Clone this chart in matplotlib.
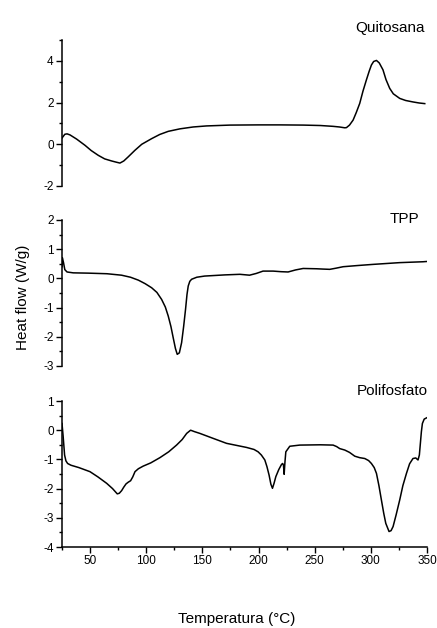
import matplotlib
matplotlib.use("Agg")
import matplotlib.pyplot as plt
from matplotlib.ticker import MultipleLocator

plt.rcParams['font.family'] = ['Liberation Sans', 'DejaVu Sans']
plt.rcParams['axes.unicode_minus'] = False

# Quitosana
t_quit = [25.0, 27.5, 29.5, 32.1, 38.0, 45.5, 51.0, 57.3, 63.0, 69.2, 73.5, 76.6, 80.0,
          84.0, 89.9, 96.0, 104.8, 112.0, 119.6, 130.0, 141.8, 153.7, 174.5, 200.0,
          219.0, 240.0, 255.0, 266.4, 272.0, 276.8, 278.3, 281.0, 284.2, 287.0, 290.1,
          293.0, 296.0, 298.5, 300.5, 302.5, 305.0, 307.5, 310.8, 313.5, 316.8, 320.0,
          325.7, 331.0, 337.5, 343.0, 348.0]
v_quit = [0.30, 0.48, 0.50, 0.45, 0.25, -0.05, -0.30, -0.53, -0.70, -0.80, -0.86, -0.90,
          -0.80, -0.60, -0.29, 0.00, 0.27, 0.47, 0.62, 0.74, 0.83, 0.88, 0.92, 0.93,
          0.93, 0.92, 0.90, 0.86, 0.83, 0.79, 0.80, 0.92, 1.16, 1.52, 1.96, 2.55, 3.08,
          3.50, 3.80, 3.97, 4.02, 3.90, 3.57, 3.10, 2.68, 2.42, 2.20, 2.10, 2.03, 1.98,
          1.95]

# TPP
t_tpp = [25.0, 25.3, 26.3, 27.5, 29.5, 35.0, 48.4, 65.0, 78.0, 86.0, 93.0, 99.0,
         104.8, 109.5, 113.7, 117.0, 119.6, 122.0, 124.0, 126.0, 127.6, 129.5, 131.5,
         133.3, 135.0, 136.3, 137.4, 138.8, 140.4, 145.0, 152.0, 170.0, 183.4, 192.0,
         198.0, 204.0, 213.0, 220.0, 226.3, 233.0, 239.7, 251.6, 257.0, 263.4, 269.0,
         275.3, 288.0, 302.0, 325.7, 346.4, 350.0]
v_tpp = [0.40, 0.71, 0.55, 0.30, 0.22, 0.19, 0.18, 0.16, 0.11, 0.04, -0.06, -0.18,
         -0.32, -0.48, -0.72, -0.98, -1.29, -1.65, -2.03, -2.40, -2.60, -2.55, -2.20,
         -1.65, -1.06, -0.55, -0.26, -0.10, -0.03, 0.04, 0.08, 0.12, 0.14, 0.11, 0.17,
         0.25, 0.25, 0.23, 0.22, 0.29, 0.34, 0.33, 0.32, 0.31, 0.35, 0.40, 0.44, 0.48,
         0.54, 0.57, 0.58]

# Polifosfato
t_poli = [25.0, 26.0, 27.3, 28.5, 30.0, 33.0, 40.0, 49.9, 57.0, 64.8, 70.0, 74.2,
          76.0, 78.1, 80.0, 82.0, 84.0, 86.1, 88.0, 90.0, 93.0, 97.3, 104.0, 112.2,
          120.0, 127.0, 132.0, 136.0, 139.5, 143.0, 147.8, 159.6, 171.5, 189.3, 196.0,
          199.6, 202.5, 205.6, 207.5, 209.4, 211.0, 212.4, 213.8, 215.4, 218.0, 220.5,
          221.5, 222.2, 222.8, 223.5, 224.3, 227.8, 236.7, 255.0, 266.4, 269.5, 272.3,
          276.8, 281.0, 285.7, 290.0, 294.6, 298.0, 300.5, 303.0, 305.0, 307.2, 309.4,
          311.5, 313.3, 316.2, 318.0, 319.8, 322.5, 325.7, 328.5, 331.7, 334.5, 337.5,
          340.0, 342.0, 343.2, 344.1, 345.0, 345.9, 347.5, 350.0]
v_poli = [0.23, -0.20, -0.85, -1.05, -1.14, -1.20, -1.28, -1.42, -1.60, -1.82, -2.00,
          -2.18, -2.16, -2.07, -1.95, -1.84, -1.78, -1.73, -1.60, -1.42, -1.32, -1.23,
          -1.12, -0.94, -0.74, -0.51, -0.32, -0.11, 0.00, -0.05, -0.11, -0.28, -0.45,
          -0.59, -0.66, -0.74, -0.85, -1.02, -1.25, -1.54, -1.85, -1.99, -1.82, -1.59,
          -1.35, -1.17, -1.14, -1.20, -1.51, -1.10, -0.74, -0.55, -0.51, -0.50, -0.51,
          -0.56, -0.63, -0.68, -0.76, -0.89, -0.94, -0.97, -1.04, -1.14, -1.28, -1.48,
          -1.90, -2.39, -2.85, -3.19, -3.47, -3.44, -3.30, -2.90, -2.39, -1.90, -1.48,
          -1.15, -0.97, -0.95, -1.02, -0.85, -0.45, -0.05, 0.23, 0.38, 0.43]

xlim = (25, 350)
fig = plt.figure(figsize=(4.37, 6.28), dpi=100)

W, H = 437.0, 628.0
left = 62 / W
width = (427 - 62) / W

def make_ax(top_px, bot_px):
    return fig.add_axes([left, 1 - bot_px / H, width, (bot_px - top_px) / H])

ax1 = make_ax(40, 186)
ax2 = make_ax(220, 366)
ax3 = make_ax(401, 547)

specs = [
    (ax1, t_quit, v_quit, (-2, 5), 2, 1),
    (ax2, t_tpp, v_tpp, (-3, 2), 1, 0.5),
    (ax3, t_poli, v_poli, (-4, 1), 1, 0.5),
]

for ax, t, v, yl, maj, mnr in specs:
    ax.plot(t, v, color='black', lw=1.1, solid_joinstyle='round')
    ax.set_xlim(*xlim)
    ax.set_ylim(*yl)
    ax.yaxis.set_major_locator(MultipleLocator(maj))
    ax.yaxis.set_minor_locator(MultipleLocator(mnr))
    for s in ['top', 'right']:
        ax.spines[s].set_visible(False)
    ax.spines['left'].set_linewidth(1.1)
    ax.tick_params(axis='y', which='major', direction='out', length=4, width=1.0,
                   labelsize=8.5, pad=2)
    ax.tick_params(axis='y', which='minor', direction='out', length=2.5, width=1.0)
    ax.patch.set_visible(False)

for ax in (ax1, ax2):
    ax.spines['bottom'].set_visible(False)
    ax.set_xticks([])
    ax.tick_params(axis='x', which='both', bottom=False, labelbottom=False)

ax3.spines['bottom'].set_linewidth(1.1)
ax3.xaxis.set_major_locator(MultipleLocator(50))
ax3.xaxis.set_minor_locator(MultipleLocator(25))
ax3.set_xticks([50, 100, 150, 200, 250, 300, 350])
ax3.tick_params(axis='x', which='major', direction='out', length=4, width=1.0,
                labelsize=8.5, pad=2)
ax3.tick_params(axis='x', which='minor', direction='out', length=2.5, width=1.0)

fig.text(425 / W, 1 - 28 / H, 'Quitosana', ha='right', va='center', fontsize=11)
fig.text(419 / W, 1 - 219 / H, 'TPP', ha='right', va='center', fontsize=11)
fig.text(428 / W, 1 - 391 / H, 'Polifosfato', ha='right', va='center', fontsize=11)

fig.text(23 / W, 1 - 297 / H, 'Heat flow (W/g)', rotation=90, ha='center',
         va='center', fontsize=11)
fig.text(237 / W, 1 - 619 / H, 'Temperatura (°C)', ha='center', va='center',
         fontsize=11)

fig.savefig('out.png', dpi=100)
